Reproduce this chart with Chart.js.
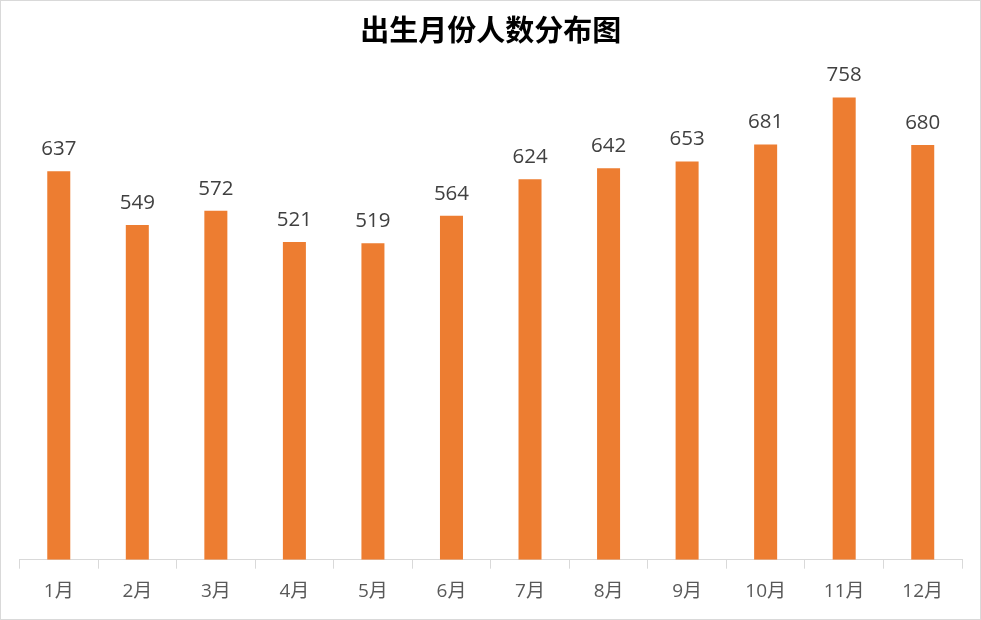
<!DOCTYPE html>
<html><head><meta charset="utf-8">
<script src="https://cdn.jsdelivr.net/npm/chart.js@4/dist/chart.umd.min.js"></script>
<style>
html,body{margin:0;padding:0;background:#fff;}
#wrap{width:981px;height:620px;box-sizing:border-box;border:1px solid #d9d9d9;background:#fff;}
</style></head>
<body><div id="wrap"><canvas id="c" width="979" height="618"></canvas></div>
<script>
const categories = ["1月","2月","3月","4月","5月","6月","7月","8月","9月","10月","11月","12月"];
const counts = [637,549,572,521,519,564,624,642,653,681,758,680];
const titleText = "出生月份人数分布图";

const labelPlugin = {
  id: 'valueLabels',
  afterDatasetsDraw(chart) {
    const ctx = chart.ctx;
    const meta = chart.getDatasetMeta(0);
    ctx.save();
    ctx.font = '20.5px "Open Sans", "Liberation Sans", sans-serif';
    ctx.fillStyle = '#404040';
    ctx.textAlign = 'center';
    ctx.textBaseline = 'alphabetic';
    meta.data.forEach((bar, i) => {
      ctx.fillText(String(counts[i]), bar.x, bar.y - 16);
    });
    ctx.restore();
  }
};

new Chart(document.getElementById('c'), {
  type: 'bar',
  data: {
    labels: categories,
    datasets: [{
      data: counts,
      backgroundColor: '#ED7D31',
      borderWidth: 0,
      categoryPercentage: 1,
      barPercentage: 0.293
    }]
  },
  options: {
    responsive: false,
    animation: false,
    devicePixelRatio: 1,
    layout: { padding: { left: 18.5, right: 18, top: 0, bottom: 5.5 } },
    plugins: {
      legend: { display: false },
      tooltip: { enabled: false },
      title: {
        display: true,
        text: titleText,
        color: '#000',
        font: { family: '"Noto Sans CJK SC", sans-serif', size: 29, weight: 'bold', lineHeight: 1.2 },
        padding: { top: 12, bottom: 24 }
      }
    },
    scales: {
      y: { display: false, min: 0, max: 800 },
      x: {
        grid: { display: true, drawOnChartArea: false, drawTicks: true, tickLength: 9, color: '#d9d9d9', offset: true },
        border: { display: true, color: '#d9d9d9', width: 1 },
        ticks: { color: '#595959', font: { family: '"Open Sans", "Noto Sans CJK SC", sans-serif', size: 19 }, padding: 11, maxRotation: 0 }
      }
    }
  },
  plugins: [labelPlugin]
});
</script></body></html>
